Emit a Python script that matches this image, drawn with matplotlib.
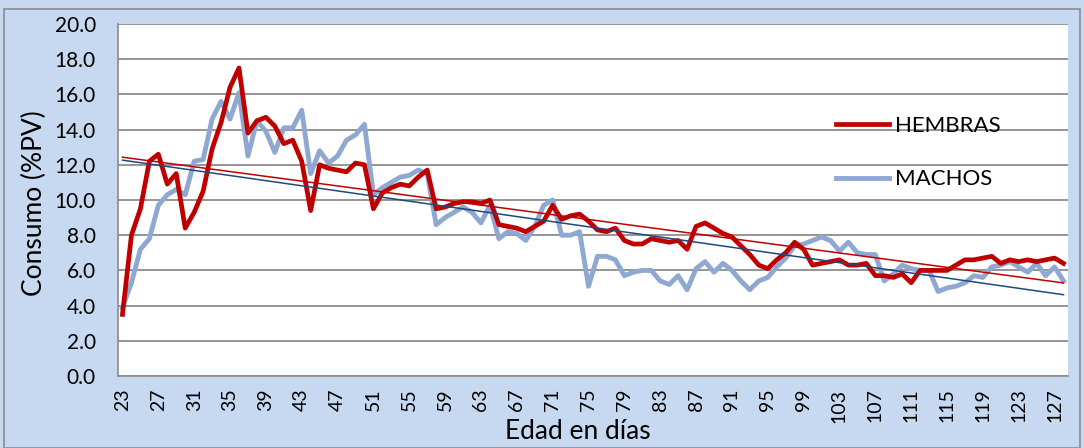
import numpy as np
import matplotlib
matplotlib.use("Agg")
import matplotlib.pyplot as plt
from matplotlib.patches import Rectangle

plt.rcParams['font.family'] = ['Lato', 'DejaVu Sans']

dias = list(range(23, 129))
hembras = [3.5, 8.0, 9.5, 12.2, 12.6, 10.9, 11.5, 8.4, 9.3, 10.5,
           12.9, 14.4, 16.4, 17.5, 13.8, 14.5, 14.7, 14.2, 13.2, 13.4,
           12.2, 9.4, 12.0, 11.8, 11.7, 11.6, 12.1, 12.0, 9.5, 10.4,
           10.7, 10.9, 10.8, 11.3, 11.7, 9.5, 9.6, 9.8, 9.9, 9.9,
           9.8, 10.0, 8.6, 8.5, 8.4, 8.2, 8.5, 8.8, 9.7, 8.9,
           9.1, 9.2, 8.8, 8.3, 8.2, 8.4, 7.7, 7.5, 7.5, 7.8,
           7.7, 7.6, 7.7, 7.2, 8.5, 8.7, 8.4, 8.1, 7.9, 7.4,
           6.9, 6.3, 6.1, 6.6, 7.0, 7.6, 7.2, 6.3, 6.4, 6.5,
           6.6, 6.3, 6.3, 6.4, 5.7, 5.7, 5.6, 5.8, 5.3, 6.0,
           6.0, 6.0, 6.0, 6.3, 6.6, 6.6, 6.7, 6.8, 6.4, 6.6,
           6.5, 6.6, 6.5, 6.6, 6.7, 6.4]
machos = [3.9, 5.3, 7.2, 7.8, 9.7, 10.3, 10.6, 10.3, 12.2, 12.3,
          14.6, 15.6, 14.6, 16.1, 12.5, 14.5, 13.9, 12.7, 14.1, 14.1,
          15.1, 11.5, 12.8, 12.1, 12.5, 13.4, 13.7, 14.3, 10.3, 10.7,
          11.0, 11.3, 11.4, 11.7, 11.5, 8.6, 9.0, 9.3, 9.6, 9.3,
          8.7, 9.7, 7.8, 8.2, 8.1, 7.7, 8.5, 9.7, 10.0, 8.0,
          8.0, 8.2, 5.1, 6.8, 6.8, 6.6, 5.7, 5.9, 6.0, 6.0,
          5.4, 5.2, 5.7, 4.9, 6.1, 6.5, 5.9, 6.4, 6.0, 5.4,
          4.9, 5.4, 5.6, 6.2, 6.7, 7.4, 7.5, 7.7, 7.9, 7.7,
          7.1, 7.6, 7.0, 6.9, 6.9, 5.4, 5.8, 6.3, 6.1, 6.0,
          6.0, 4.8, 5.0, 5.1, 5.3, 5.7, 5.6, 6.2, 6.3, 6.5,
          6.2, 5.9, 6.4, 5.7, 6.2, 5.4]
tick_dias = list(range(23, 128, 4))
yticks = [0, 2, 4, 6, 8, 10, 12, 14, 16, 18, 20]

W, H = 1084, 448
bg = '#C6D9F1'
fig = plt.figure(figsize=(W / 100, H / 100), dpi=100, facecolor=bg)
fig.patches.append(Rectangle((4 / W, 0), 1 - 8 / W, 1 - 9 / H, transform=fig.transFigure,
                             fill=False, edgecolor='#8C8C8C', linewidth=1.2))

ax = fig.add_axes([118 / W, 1 - 376 / H, 950 / W, 352 / H])
ax.set_facecolor('white')

x = np.array(dias)
h = np.array(hembras)
m = np.array(machos)

ax.plot(x, h, color='#C00000', linewidth=3.4, label='HEMBRAS', zorder=3,
        solid_joinstyle='round')
ax.plot(x, m, color='#8EA8D2', linewidth=3.5, label='MACHOS', zorder=2,
        solid_joinstyle='round')

ph = np.polyfit(x, h, 1)
pm = np.polyfit(x, m, 1)
ax.plot(x, np.polyval(ph, x), color='#C00000', linewidth=1.1, zorder=4)
ax.plot(x, np.polyval(pm, x), color='#1F497D', linewidth=1.1, zorder=4)

ax.set_xlim(22.5, 128.5)
ax.set_ylim(0, 20)
ax.set_yticks(yticks)
ax.set_yticklabels([f'{v:.1f}' for v in yticks])
ax.set_xticks(tick_dias)
ax.set_xticklabels([str(d) for d in tick_dias], rotation=90)
ax.tick_params(axis='y', length=0, pad=16, labelsize=15)
ax.tick_params(axis='x', length=0, pad=9, labelsize=14)
ax.grid(axis='y', color='#8C8C8C', linewidth=1.3)
ax.set_axisbelow(True)
for s in ['left', 'bottom', 'top', 'right']:
    ax.spines[s].set_color('#8C8C8C')
    ax.spines[s].set_linewidth(1.2)
ax.spines['top'].set_visible(False)
ax.spines['right'].set_visible(False)

leg = ax.legend(loc='upper left', bbox_to_anchor=((836 - 118) / 950, (376 - 116) / 352),
                frameon=False, fontsize=16, handlelength=2.4, handletextpad=0.25,
                labelspacing=1.5, borderaxespad=0, borderpad=0)

fig.text(34 / W, 1 - 203 / H, 'Consumo (%PV)', rotation=90, ha='center', va='center',
         fontsize=19)
fig.text(578 / W, 1 - 431 / H, 'Edad en días', ha='center', va='center', fontsize=19)

fig.savefig('out.png', dpi=100, facecolor=bg)
